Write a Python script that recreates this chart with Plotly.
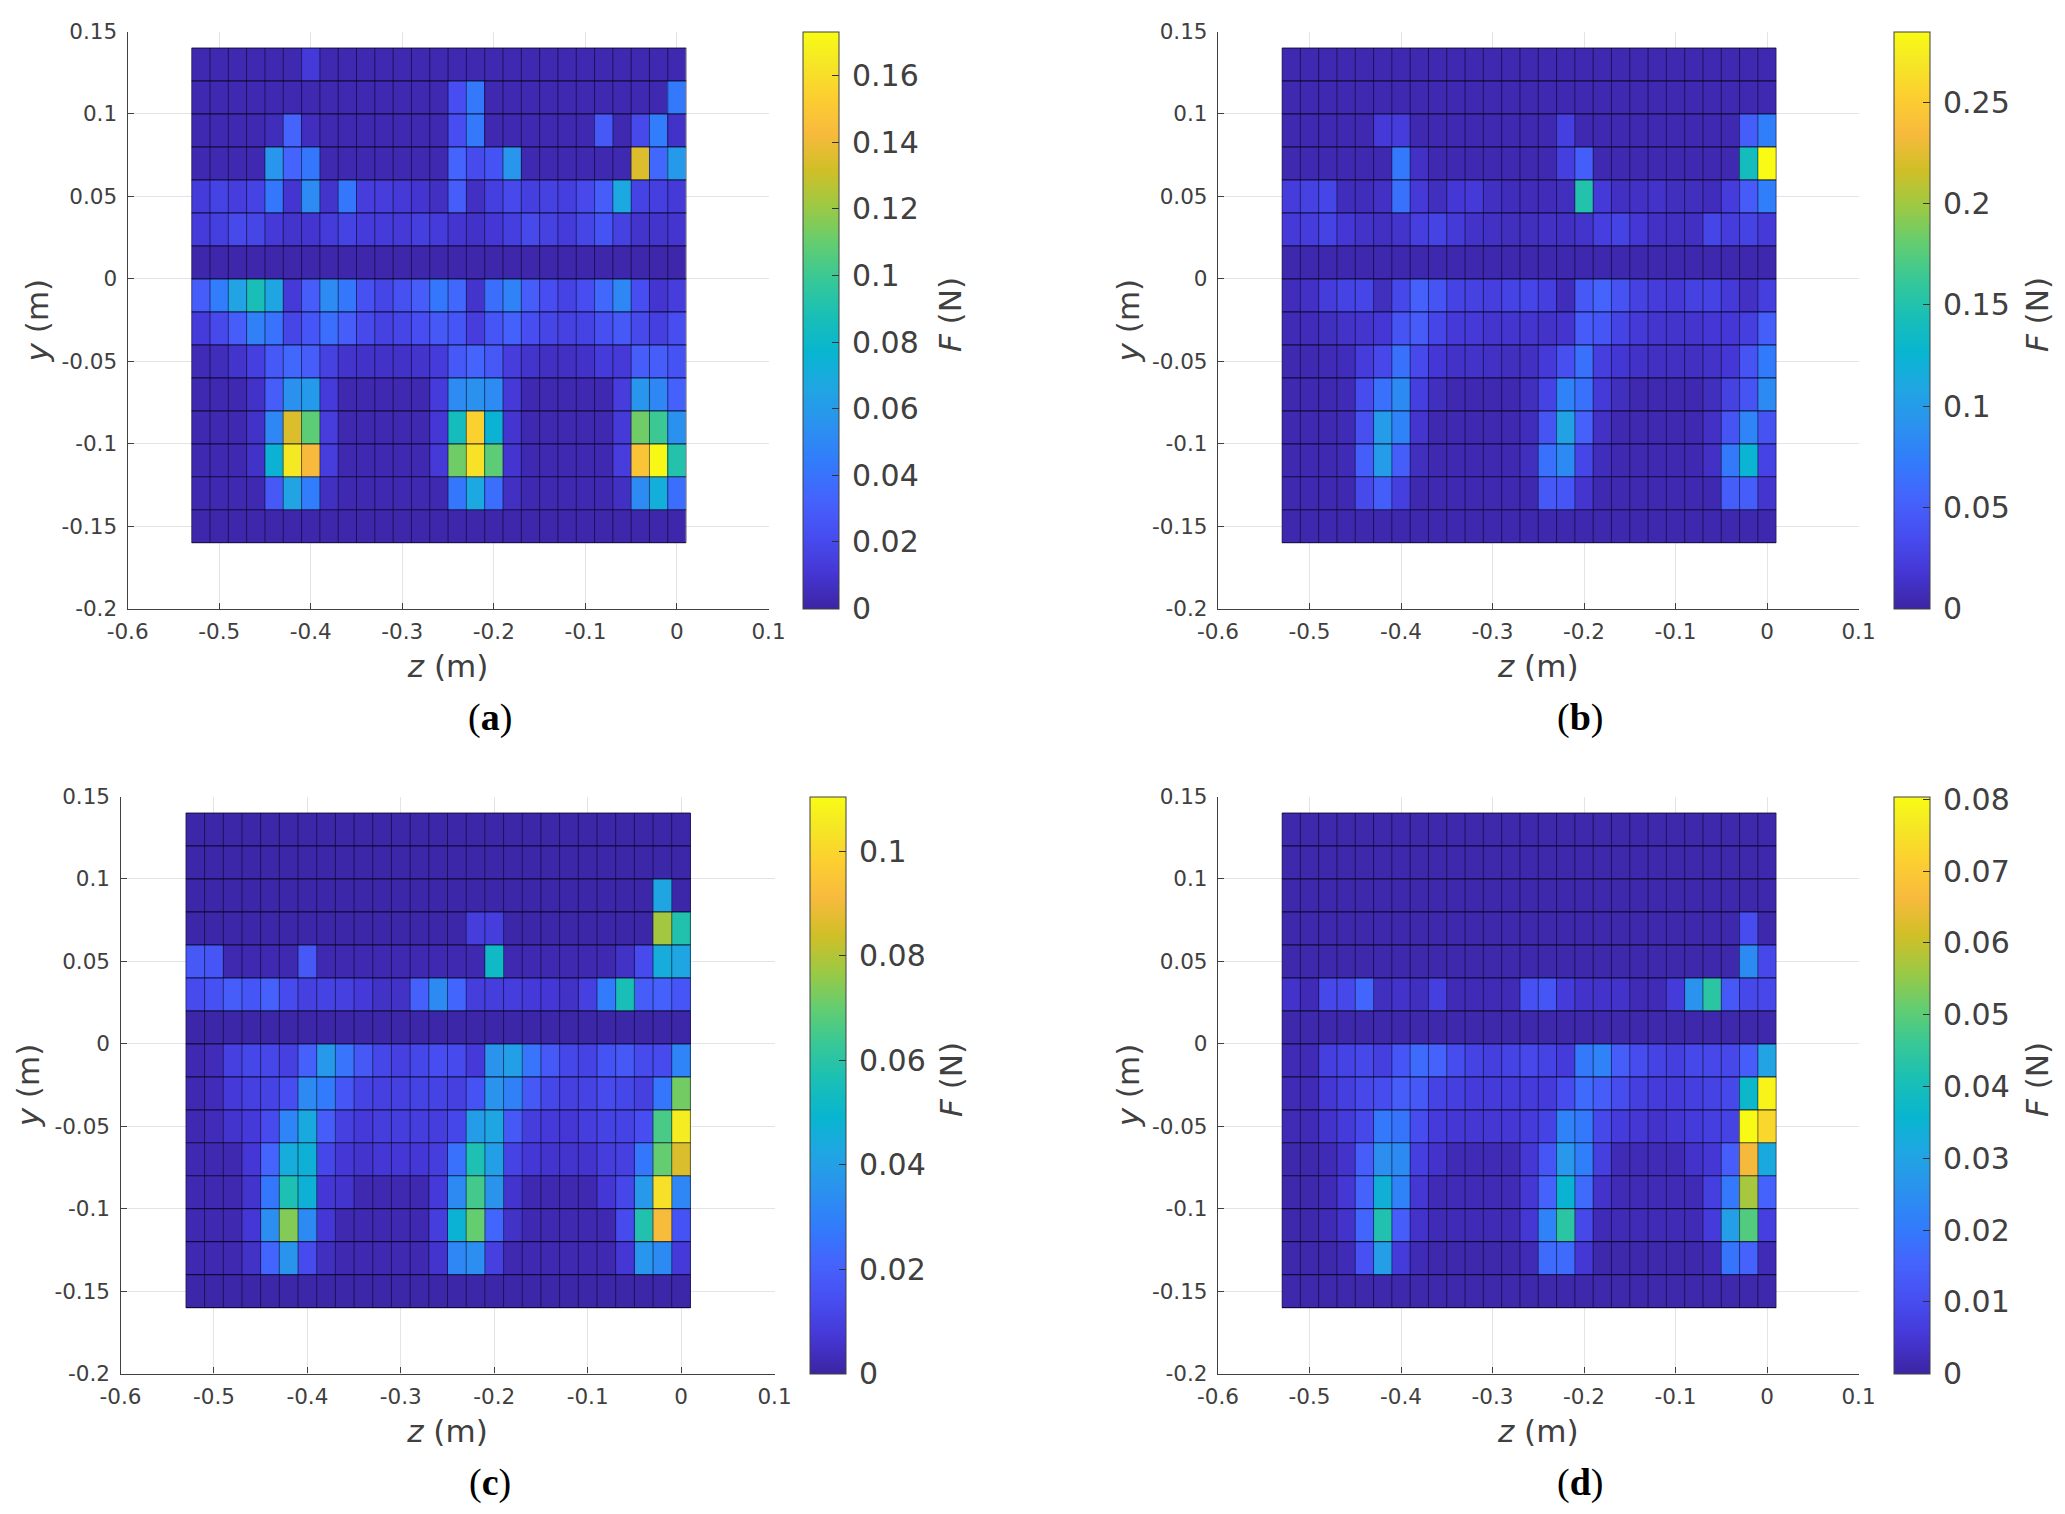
import plotly.graph_objects as go

W, H = 2065, 1514

# Cell edges of the pressure-map grid (metres)
z_edges = [-0.53, -0.51, -0.49, -0.47, -0.45, -0.43, -0.41, -0.39, -0.37, -0.35, -0.33, -0.31, -0.29, -0.27,
           -0.25, -0.23, -0.21, -0.19, -0.17, -0.15, -0.13, -0.11, -0.09, -0.07, -0.05, -0.03, -0.01, 0.01]
y_edges = [0.14, 0.12, 0.10, 0.08, 0.06, 0.04, 0.02, 0.0, -0.02, -0.04, -0.06, -0.08, -0.10, -0.12, -0.14, -0.16]

# Force per cell in mN, rows top (y=0.14) to bottom (y=-0.16), columns z=-0.53 .. 0.01
F_a = [
 [3,3,3,3,3,3,12,3,3,3,3,3,3,3,3,3,3,3,3,3,3,3,3,3,3,3,3],
 [3,3,3,3,3,3,3,3,3,3,3,3,3,3,22,43,3,3,3,3,3,3,3,3,3,3,43],
 [3,3,3,3,5,33,6,3,3,3,3,3,3,3,22,43,3,3,3,3,3,3,28,3,20,45,8],
 [3,3,3,3,58,33,42,3,3,3,3,3,3,3,33,21,25,58,3,3,3,3,3,3,135,35,60],
 [13,17,14,17,42,10,52,9,42,14,14,12,10,7,30,7,15,20,15,16,15,20,30,68,17,15,12],
 [13,15,20,18,12,9,10,13,17,13,13,12,15,13,10,8,11,15,20,16,13,18,25,16,9,9,10],
 [2,2,2,2,2,2,2,2,2,2,2,2,2,2,2,2,2,2,2,2,2,2,2,2,2,2,2],
 [30,45,65,88,66,12,30,52,42,24,18,24,30,42,35,9,38,48,30,22,17,22,35,50,22,10,14],
 [13,20,30,47,40,18,26,38,30,20,16,18,22,28,26,14,26,32,22,18,16,17,23,28,20,15,22],
 [4,5,9,15,28,35,30,16,9,8,8,8,9,13,28,33,28,14,9,7,7,8,13,12,30,30,25],
 [3,3,3,8,30,55,60,13,3,3,3,3,3,13,52,55,52,12,3,3,3,3,3,14,58,50,32],
 [3,3,3,8,50,135,108,14,3,3,3,3,3,11,85,155,75,10,3,3,3,3,3,12,112,100,55],
 [3,3,3,8,75,165,143,14,3,3,3,3,3,12,112,162,108,10,3,3,3,3,3,14,148,172,92],
 [3,3,3,3,28,65,45,7,3,3,3,3,3,3,42,68,38,7,3,3,3,3,3,7,52,72,38],
 [2,2,2,2,2,2,2,2,2,2,2,2,2,2,2,2,2,2,2,2,2,2,2,2,2,2,2],
]
F_b = [
 [5,5,5,5,5,5,5,5,5,5,5,5,5,5,5,5,5,5,5,5,5,5,5,5,5,5,5],
 [5,5,5,5,5,5,5,5,5,5,5,5,5,5,5,5,5,5,5,5,5,5,5,5,5,5,5],
 [5,5,5,5,5,20,22,5,5,5,5,5,5,5,5,25,5,5,5,5,5,5,5,5,5,50,75],
 [5,5,5,5,5,5,70,12,5,5,5,5,5,5,5,25,50,5,5,5,5,5,5,5,5,140,285],
 [22,26,30,9,9,12,65,20,10,18,20,11,9,8,8,10,150,20,11,12,14,10,10,9,22,48,75],
 [20,22,28,18,14,11,15,24,28,20,14,12,10,10,12,11,15,24,28,18,12,11,11,30,22,28,20],
 [4,4,4,4,4,4,4,4,4,4,4,4,4,4,4,4,4,4,4,4,4,4,4,4,4,4,4],
 [9,12,22,28,30,10,32,52,42,28,26,24,28,30,25,9,45,55,40,26,22,20,26,28,20,12,25],
 [7,8,10,14,16,18,42,48,30,20,20,16,16,16,14,16,48,44,28,20,16,15,16,18,18,25,50],
 [5,5,7,9,22,32,65,33,18,13,14,12,10,11,20,38,65,24,17,13,11,11,11,14,18,42,72],
 [5,5,5,7,35,65,85,25,10,5,5,5,5,10,28,78,65,20,10,5,5,5,5,10,26,42,85],
 [5,5,5,7,38,100,78,16,5,5,5,5,5,9,42,105,52,12,5,5,5,5,5,12,42,80,40],
 [5,5,5,7,50,100,50,10,5,5,5,5,5,10,65,85,30,9,5,5,5,5,5,12,70,125,28],
 [5,5,5,5,33,50,25,5,5,5,5,5,5,5,46,44,16,5,5,5,5,5,5,5,50,50,16],
 [4,4,4,4,4,4,4,4,4,4,4,4,4,4,4,4,4,4,4,4,4,4,4,4,4,4,4],
]
F_c = [
 [1,1,1,1,1,1,1,1,1,1,1,1,1,1,1,1,1,1,1,1,1,1,1,1,1,1,1],
 [1,1,1,1,1,1,1,1,1,1,1,1,1,1,1,1,1,1,1,1,1,1,1,1,1,1,1],
 [1,1,1,1,1,1,1,1,1,1,1,1,1,1,1,1,1,1,1,1,1,1,1,1,1,42,1],
 [1,1,1,1,1,1,1,1,1,1,1,1,1,1,1,9,9,1,1,1,1,1,1,1,1,78,58],
 [18,17,2,2,2,2,18,2,2,2,2,2,2,2,2,2,52,2,2,2,2,2,2,5,13,45,42],
 [13,15,19,17,20,13,10,11,10,8,5,5,20,33,22,9,9,9,8,7,5,10,28,56,19,20,17],
 [1,1,1,1,1,1,1,1,1,1,1,1,1,1,1,1,1,1,1,1,1,1,1,1,1,1,1],
 [2,3,10,12,12,10,20,38,26,18,12,10,12,14,13,8,36,40,26,18,12,11,16,18,13,13,31],
 [2,3,8,10,11,14,33,28,17,11,10,10,11,11,10,16,36,30,18,12,10,11,13,12,10,27,72],
 [2,3,6,8,13,31,44,19,10,8,9,9,9,9,12,39,42,18,9,8,7,9,11,11,14,66,106],
 [2,2,2,7,21,45,47,12,7,6,7,7,7,9,25,57,40,11,7,6,6,6,9,10,27,70,86],
 [2,2,2,6,27,57,47,7,6,2,2,2,2,8,33,65,36,6,2,2,2,2,7,12,38,103,32],
 [2,2,2,7,34,74,33,7,2,2,2,2,2,9,48,70,22,5,2,2,2,2,2,13,58,92,16],
 [2,2,2,5,22,36,13,4,2,2,2,2,2,6,32,34,10,2,2,2,2,2,2,7,37,33,8],
 [1,1,1,1,1,1,1,1,1,1,1,1,1,1,1,1,1,1,1,1,1,1,1,1,1,1,1],
]
F_d = [
 [1,1,1,1,1,1,1,1,1,1,1,1,1,1,1,1,1,1,1,1,1,1,1,1,1,1,1],
 [1,1,1,1,1,1,1,1,1,1,1,1,1,1,1,1,1,1,1,1,1,1,1,1,1,1,1],
 [1,1,1,1,1,1,1,1,1,1,1,1,1,1,1,1,1,1,1,1,1,1,1,1,1,1,1],
 [1,1,1,1,1,1,1,1,1,1,1,1,1,1,1,1,1,1,1,1,1,1,1,1,1,10,1],
 [1,1,1,1,1,1,1,1,1,1,1,1,1,1,1,1,1,1,1,1,1,1,1,1,1,24,9],
 [4,2,9,9,16,3,4,3,7,2,2,2,2,11,12,6,4,4,4,2,2,6,26,44,13,9,9],
 [1,1,1,1,1,1,1,1,1,1,1,1,1,1,1,1,1,1,1,1,1,1,1,1,1,1,1],
 [2,2,7,8,9,7,12,17,15,10,8,7,8,9,8,6,20,22,14,10,8,7,9,9,9,14,30],
 [2,2,5,7,9,10,14,13,8,7,6,6,6,6,6,10,17,14,10,7,6,6,7,8,9,37,79],
 [2,2,4,6,9,20,19,10,6,5,5,5,5,6,8,22,20,9,6,5,4,5,6,7,8,80,73],
 [1,1,2,4,14,25,24,7,4,2,2,2,2,5,12,27,21,7,2,2,2,2,4,5,14,66,32],
 [1,1,2,5,15,34,22,5,2,2,2,2,2,5,15,35,17,4,2,2,2,2,2,7,20,57,15],
 [1,1,2,4,16,42,14,4,2,2,2,2,2,5,22,44,9,2,2,2,2,2,2,6,29,49,7],
 [1,1,1,2,11,29,6,2,1,1,1,1,1,2,17,17,5,1,1,1,1,1,1,2,19,15,2],
 [1,1,1,1,1,1,1,1,1,1,1,1,1,1,1,1,1,1,1,1,1,1,1,1,1,1,1],
]

F_max = [0.1732, 0.285, 0.1105, 0.0804]
cb_dtick = [0.02, 0.05, 0.02, 0.01]
captions = ["a", "b", "c", "d"]
x_ticks = [-0.6, -0.5, -0.4, -0.3, -0.2, -0.1, 0, 0.1]
x_tick_text = ["-0.6", "-0.5", "-0.4", "-0.3", "-0.2", "-0.1", "0", "0.1"]
y_ticks = [-0.2, -0.15, -0.1, -0.05, 0, 0.05, 0.1, 0.15]
y_tick_text = ["-0.2", "-0.15", "-0.1", "-0.05", "0", "0.05", "0.1", "0.15"]

parula = ["#3c24a2", "#4537d5", "#474df0", "#4563fd", "#327bfc", "#2b91ef", "#20a5e3", "#08b5d0", "#19bfb6",
          "#37c897", "#64cd6f", "#9dc943", "#d1bf27", "#f8ba3d", "#fccf30", "#f5e924", "#f9fb14"]
parula_pos = [0, 4, 8, 12, 16, 20, 24, 28, 32, 36, 40, 44, 48, 52, 56, 60, 63]
parula_scale = [[k / 63, c] for k, c in zip(parula_pos, parula)]

# Pixel boxes: axes left, right, top, bottom; colourbar left; F-label x; y-label standoff
panels = [
    dict(l=127.6, r=768.5, t=31.5, b=608.7, cb=803, fx=950, cx=490, cy=717, ys=3),
    dict(l=1218, r=1858.5, t=31.5, b=608.7, cb=1894, fx=2037, cx=1580, cy=717, ys=3),
    dict(l=120.5, r=774.5, t=796.5, b=1373.6, cb=810, fx=951, cx=490, cy=1482, ys=5),
    dict(l=1218, r=1858.5, t=796.5, b=1373.6, cb=1894, fx=2037, cx=1580, cy=1482, ys=3),
]
series = [F_a, F_b, F_c, F_d]

TXT = "#404040"
fig = go.Figure()
annotations = []
layout_axes = {}
for i, (p, F) in enumerate(zip(panels, series)):
    n = "" if i == 0 else str(i + 1)
    xa, ya = "x" + n, "y" + n
    z_vals = [[v / 1000 for v in row] for row in F[::-1]]
    fig.add_trace(go.Heatmap(
        x=z_edges, y=y_edges[::-1], z=z_vals, xaxis=xa, yaxis=ya,
        zmin=0, zmax=F_max[i], colorscale=parula_scale, zsmooth=False,
        colorbar=dict(
            x=p["cb"] / W, xanchor="left", xpad=0, ypad=0,
            y=1 - (p["t"] + p["b"]) / 2 / H, yanchor="middle",
            len=(p["b"] - p["t"]) / H, lenmode="fraction",
            thickness=36, thicknessmode="pixels",
            tickmode="linear", tick0=0, dtick=cb_dtick[i],
            tickprefix="\u2009", ticks="inside", ticklen=7, tickwidth=1, tickcolor="#303030",
            tickfont=dict(family="DejaVu Sans", size=30, color=TXT),
            outlinecolor="#404040", outlinewidth=1,
        ),
    ))
    # thin black cell borders, taken from the same edges
    vx, vy, hx, hy = [], [], [], []
    for z in z_edges:
        vx += [z, z, None]
        vy += [y_edges[0], y_edges[-1], None]
    for y in y_edges:
        hx += [z_edges[0], z_edges[-1], None]
        hy += [y, y, None]
    fig.add_trace(go.Scatter(x=vx, y=vy, mode="lines", xaxis=xa, yaxis=ya, showlegend=False, hoverinfo="skip",
                             line=dict(color="rgba(0,0,20,0.55)", width=1)))
    fig.add_trace(go.Scatter(x=hx, y=hy, mode="lines", xaxis=xa, yaxis=ya, showlegend=False, hoverinfo="skip",
                             line=dict(color="rgba(0,0,20,0.75)", width=1.2)))
    common = dict(showgrid=True, gridcolor="#e4e4e4", gridwidth=1, zeroline=False, showline=True, automargin=False,
                  linecolor="#404040", linewidth=1.3, ticks="inside", ticklen=6, tickwidth=1, tickcolor="#404040",
                  tickfont=dict(family="DejaVu Sans", size=21.5, color=TXT), layer="below traces")
    layout_axes["xaxis" + n] = dict(
        common, domain=[p["l"] / W, p["r"] / W], range=[-0.6, 0.1], anchor=ya,
        tickmode="array", tickvals=x_ticks, ticktext=x_tick_text, ticklabelstandoff=3,
        title=dict(text="\u2002<i>z</i> (m)", font=dict(family="DejaVu Sans", size=31, color=TXT), standoff=12))
    layout_axes["yaxis" + n] = dict(
        common, domain=[1 - p["b"] / H, 1 - p["t"] / H], range=[-0.2, 0.15], anchor=xa,
        tickmode="array", tickvals=y_ticks, ticktext=y_tick_text, ticklabelstandoff=5,
        title=dict(text="\u2002<i>y</i> (m)", font=dict(family="DejaVu Sans", size=31, color=TXT), standoff=p["ys"]))
    annotations.append(dict(text="<i>F</i> (N)", x=p["fx"] / W, y=1 - ((p["t"] + p["b"]) / 2 - 5) / H,
                            xref="paper", yref="paper", textangle=-90, showarrow=False,
                            xanchor="center", yanchor="middle",
                            font=dict(family="DejaVu Sans", size=31, color=TXT)))
    annotations.append(dict(text="(<b>%s</b>)" % captions[i], x=p["cx"] / W, y=1 - p["cy"] / H,
                            xref="paper", yref="paper", showarrow=False, xanchor="center", yanchor="middle",
                            font=dict(family="Liberation Serif", size=38, color="#000000")))

fig.update_layout(width=W, height=H, autosize=False, margin=dict(l=0, r=0, t=0, b=0),
                  paper_bgcolor="white", plot_bgcolor="white", showlegend=False,
                  annotations=annotations, **layout_axes)
fig.write_html("out.html", config={"displayModeBar": False},
               post_script="document.body.style.margin='0';document.documentElement.style.overflow='hidden';")
